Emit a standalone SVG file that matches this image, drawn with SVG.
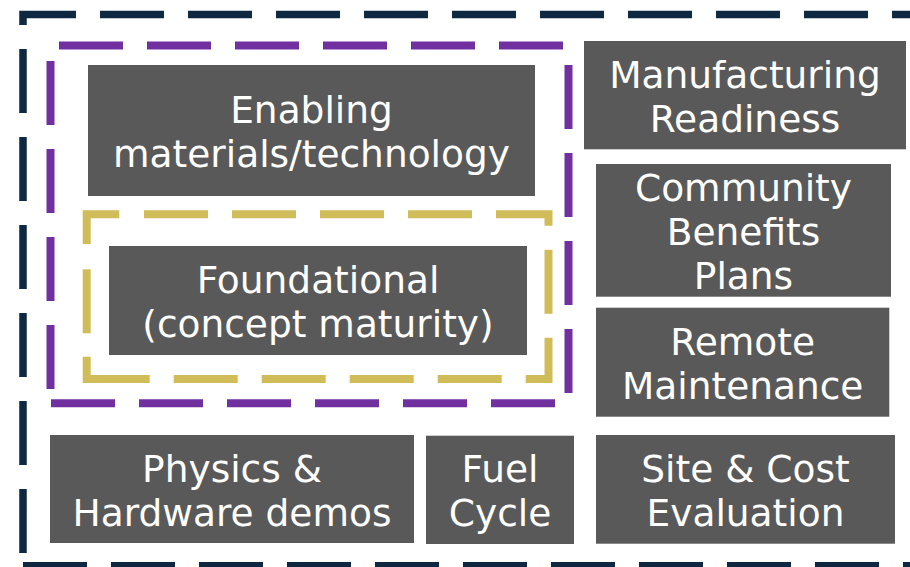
<svg xmlns="http://www.w3.org/2000/svg" width="910" height="567" viewBox="0 0 910 567">
<style>
.bx{fill:#595959}
.tx{fill:#ffffff;font-family:"DejaVu Sans","Verdana",sans-serif;font-size:37.5px;text-anchor:middle}
.nv{stroke:#0E2841;stroke-width:7.5;fill:none;stroke-linecap:butt;stroke-linejoin:miter}
.pu{stroke:#7030A0;stroke-width:8;fill:none;stroke-linecap:butt;stroke-linejoin:miter}
.go{stroke:#D1BC5A;stroke-width:8;fill:none;stroke-linecap:butt;stroke-linejoin:miter}
.d{stroke-dasharray:64 24}
</style>
<rect width="910" height="567" fill="#ffffff"/>
<g id="outer-border">
<path class="nv" d="M23,25 V14.5 H76"/>
<line class="nv d" x1="100" y1="14.5" x2="915" y2="14.5"/>
<line class="nv d" x1="23" y1="49" x2="23" y2="553"/>
<line class="nv d" x1="23" y1="565.7" x2="915" y2="565.7"/>
</g>
<g id="purple-border">
<line class="pu d" x1="59" y1="45.5" x2="563" y2="45.5"/>
<line class="pu d" x1="50.5" y1="61" x2="50.5" y2="389"/>
<line class="pu d" x1="568.5" y1="65" x2="568.5" y2="393"/>
<line class="pu d" x1="51" y1="403.2" x2="555" y2="403.2"/>
</g>
<g id="gold-border">
<path class="go" d="M86.7,244 V214.3 H119.3"/>
<line class="go d" x1="144" y1="214.3" x2="472" y2="214.3"/>
<path class="go" d="M496,214.3 H548.5 V225.8"/>
<line class="go" x1="548.5" y1="249.8" x2="548.5" y2="313.8"/>
<path class="go" d="M548.5,337.8 V379 H525.7"/>
<line class="go d" x1="173.7" y1="379" x2="501.7" y2="379"/>
<path class="go" d="M86.7,356.7 V379 H149.7"/>
<line class="go" x1="86.7" y1="269.3" x2="86.7" y2="333.3"/>
</g>
<g id="enabling">
<rect class="bx" x="88" y="65" width="447" height="131"/>
<text class="tx" x="311.5" y="123">Enabling</text>
<text class="tx" x="311.5" y="167">materials/technology</text>
</g>
<g id="foundational">
<rect class="bx" x="109" y="246" width="418" height="109"/>
<text class="tx" x="318" y="293">Foundational</text>
<text class="tx" x="318" y="337">(concept maturity)</text>
</g>
<g id="manufacturing">
<rect class="bx" x="584" y="41" width="322" height="108.3"/>
<text class="tx" x="745" y="87.5">Manufacturing</text>
<text class="tx" x="745" y="131.5">Readiness</text>
</g>
<g id="community">
<rect class="bx" x="596" y="164" width="295" height="132.7"/>
<text class="tx" x="743.5" y="200.5">Community</text>
<text class="tx" x="743.5" y="244.5">Benefits</text>
<text class="tx" x="743.5" y="288.5">Plans</text>
</g>
<g id="remote">
<rect class="bx" x="596" y="307.7" width="293.3" height="109"/>
<text class="tx" x="742.7" y="354.7">Remote</text>
<text class="tx" x="742.7" y="398.7">Maintenance</text>
</g>
<g id="physics">
<rect class="bx" x="50" y="435" width="364" height="108"/>
<text class="tx" x="232" y="481.5">Physics &amp;</text>
<text class="tx" x="232" y="525.5">Hardware demos</text>
</g>
<g id="fuel">
<rect class="bx" x="426" y="435.7" width="148" height="108.3"/>
<text class="tx" x="500" y="482">Fuel</text>
<text class="tx" x="500" y="526">Cycle</text>
</g>
<g id="site">
<rect class="bx" x="596" y="435" width="299" height="108.7"/>
<text class="tx" x="745.5" y="481.5">Site &amp; Cost</text>
<text class="tx" x="745.5" y="525.5">Evaluation</text>
</g>
<g id="connectors"></g>
</svg>
